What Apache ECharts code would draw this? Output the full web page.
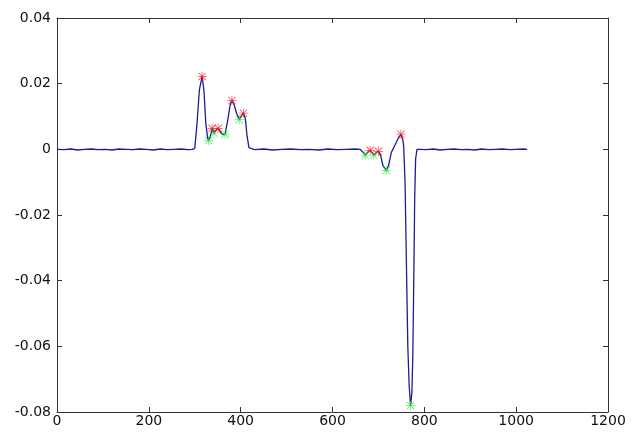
<!DOCTYPE html>
<html>
<head>
<meta charset="utf-8">
<script src="https://cdn.jsdelivr.net/npm/echarts@6/dist/echarts.min.js"></script>
<style>html,body{margin:0;padding:0;background:#fff}#c{width:635px;height:432px}</style>
</head>
<body>
<div id="c"></div>
<script>
// Signal trace (sample index, value)
var lineX = [1,15,30,45,60,75,90,105,120,135,150,165,180,195,210,225,240,255,270,285,295,
  300,305,310,316,320,324,328,330,334,338,342,346,351,356,361,366,372,377,381,386,391,397,402,406,410,414,418,422,
  430,450,470,490,510,530,550,570,590,610,630,650,660,
  666,671,676,682,686,690,695,700,705,710,717,722,728,735,742,749,753,755,758,761,764,767,770,773,775,777,779,781,784,
  790,805,820,835,850,865,880,895,910,925,940,955,970,985,1000,1015,1024];
var lineY = [0,-0.0001,0.0001,-0.0002,0,0.0001,-0.0001,0,-0.0002,0.0001,0,-0.0001,0.0001,0,-0.0002,0.0001,-0.0001,0,0.0001,-0.0001,0,
  0.0003,0.008,0.018,0.0222,0.018,0.008,0.0035,0.0027,0.004,0.0064,0.0049,0.0058,0.0064,0.0052,0.0045,0.0046,0.009,0.0135,0.0149,0.0135,0.011,0.0091,0.0103,0.011,0.0095,0.004,0.0005,0,
  -0.0001,0.0001,-0.0002,0,0.0001,-0.0001,0,-0.0002,0.0001,-0.0001,0,0.0001,0,
  -0.0008,-0.0018,-0.001,-0.0003,-0.001,-0.0018,-0.001,-0.0006,-0.002,-0.005,-0.0064,-0.005,-0.001,0.001,0.003,0.0046,0.003,0.001,-0.01,-0.035,-0.06,-0.072,-0.078,-0.074,-0.062,-0.04,-0.015,-0.003,0,
  0,-0.0001,0.0001,-0.0002,0,0.0001,-0.0001,0,-0.0002,0.0001,-0.0001,0,0.0001,-0.0001,0,0.0001,0];
// Detected peaks (red) and valleys (green)
var redX = [316,338,351,381,406,682,700,749];
var redY = [0.0222,0.0064,0.0064,0.0149,0.011,-0.0003,-0.0006,0.0046];
var greenX = [330,342,366,397,671,690,717,770];
var greenY = [0.0027,0.0049,0.0046,0.0091,-0.0018,-0.0018,-0.0064,-0.078];
// Axis settings
var xMin = 0, xMax = 1200, xStep = 200;
var yMin = -0.08, yMax = 0.04, yStep = 0.02;

function pairs(a, b){ return a.map(function(v,i){ return [v, b[i]]; }); }
var star = 'path://M4.6 0L5.4 0L5.4 10L4.6 10Z M0 4.6L10 4.6L10 5.4L0 5.4Z M1.2 0.6L9.4 8.8L8.8 9.4L0.6 1.2Z M8.8 0.6L9.4 1.2L1.2 9.4L0.6 8.8Z';
var font = {color:'#111', fontFamily:'DejaVu Sans', fontSize:14};
var axLine = {onZero:false, lineStyle:{color:'#333', width:1}};
var tick = {inside:true, length:5, lineStyle:{color:'#333'}};
var chart = echarts.init(document.getElementById('c'));
chart.setOption({
  animation:false,
  backgroundColor:'#fff',
  grid:{left:57, right:27, top:18, bottom:20},
  xAxis:[
    {type:'value', min:xMin, max:xMax, interval:xStep, position:'bottom',
     axisLine:axLine, axisTick:tick, splitLine:{show:false},
     axisLabel:Object.assign({margin:2, formatter:function(v){ return String(v); }}, font)},
    {type:'value', min:xMin, max:xMax, interval:xStep, position:'top',
     axisLine:axLine, axisTick:tick, splitLine:{show:false}, axisLabel:{show:false}}
  ],
  yAxis:[
    {type:'value', min:yMin, max:yMax, interval:yStep, position:'left',
     axisLine:axLine, axisTick:tick, splitLine:{show:false},
     axisLabel:Object.assign({margin:6, formatter:function(v){ var r=Math.round(v*100)/100; return r===0?'0':r.toFixed(2);} }, font)},
    {type:'value', min:yMin, max:yMax, interval:yStep, position:'right',
     axisLine:axLine, axisTick:tick, splitLine:{show:false}, axisLabel:{show:false}}
  ],
  series:[
    {type:'line', data:pairs(lineX, lineY), showSymbol:false, symbol:'none',
     lineStyle:{color:'#1c1c96', width:1.3}},
    {type:'scatter', data:pairs(redX, redY), symbol:star, symbolSize:9,
     itemStyle:{color:'#ff1a1a'}, z:5},
    {type:'scatter', data:pairs(greenX, greenY), symbol:star, symbolSize:9,
     itemStyle:{color:'#22ee22'}, z:4}
  ]
});
</script>
</body>
</html>
